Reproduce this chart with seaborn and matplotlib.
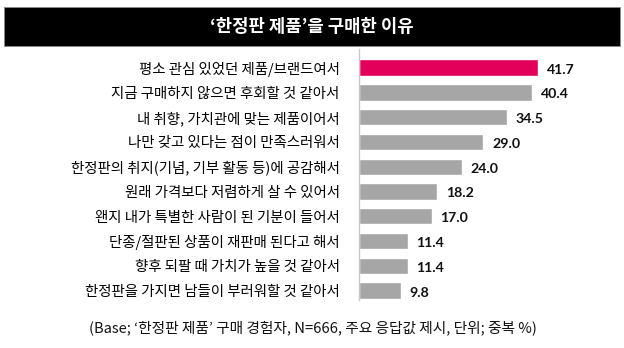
import matplotlib
matplotlib.use("Agg")
import matplotlib.pyplot as plt
import seaborn as sns
import pandas as pd
from matplotlib.patches import Rectangle

categories = [
    "평소 관심 있었던 제품/브랜드여서",
    "지금 구매하지 않으면 후회할 것 같아서",
    "내 취향, 가치관에 맞는 제품이어서",
    "나만 갖고 있다는 점이 만족스러워서",
    "한정판의 취지(기념, 기부 활동 등)에 공감해서",
    "원래 가격보다 저렴하게 살 수 있어서",
    "왠지 내가 특별한 사람이 된 기분이 들어서",
    "단종/절판된 상품이 재판매 된다고 해서",
    "향후 되팔 때 가치가 높을 것 같아서",
    "한정판을 가지면 남들이 부러워할 것 같아서",
]
values = [41.7, 40.4, 34.5, 29.0, 24.0, 18.2, 17.0, 11.4, 11.4, 9.8]
title = "‘한정판 제품’을 구매한 이유"
footnote = "(Base; ‘한정판 제품’ 구매 경험자, N=666, 주요 응답값 제시, 단위; 중복 %)"

sns.set_theme(style="white")
plt.rcParams['font.family'] = ['Noto Sans CJK KR', 'DejaVu Sans']

W, H = 624, 348
fig = plt.figure(figsize=(W / 100, H / 100), dpi=100)

ax_left, ax_top, ax_bottom = 359, 49, 300
xmax = 60
px_per_unit = (538 - 359) / 41.7
ax_w = xmax * px_per_unit
ax = fig.add_axes([ax_left / W, 1 - ax_bottom / H, ax_w / W, (ax_bottom - ax_top) / H])

df = pd.DataFrame({"cat": categories, "val": values})
colors = ["#E2005A"] + ["#A6A6A6"] * (len(values) - 1)
sns.barplot(data=df, x="val", y="cat", hue="cat", palette=colors, legend=False,
            width=0.66, ax=ax, saturation=1)

ax.set_xlim(0, xmax)
ax.set_ylim(9.38, -0.75)
ax.set_xlabel("")
ax.set_ylabel("")
ax.set_xticks([])
for s in ["top", "right", "bottom"]:
    ax.spines[s].set_visible(False)
ax.spines["left"].set_color("#C8C8C8")
ax.spines["left"].set_linewidth(1.0)
ax.tick_params(axis="y", length=0, pad=14, labelsize=10.4, labelcolor="#000000")
for lab in ax.get_yticklabels():
    lab.set_fontweight("medium")

for i, v in enumerate(values):
    ax.text(v + 2.0, i + 0.08, f"{v:.1f}", va="center", ha="left",
            fontsize=10.2, fontweight="bold", family=["Lato", "DejaVu Sans"], color="#111111")

# title band
fig.patches.append(Rectangle((4 / W, 1 - 46 / H), 616 / W, 39 / H, transform=fig.transFigure,
                             facecolor="black", edgecolor="#888888", linewidth=0.6, figure=fig))
fig.text(312 / W, 1 - 27 / H, title, ha="center", va="center", color="white",
         fontsize=12.8, fontweight="bold")

fig.text(313 / W, 1 - 328 / H, footnote, ha="center", va="center", color="#111111", fontsize=10.6)

fig.savefig("out.png", dpi=100, facecolor="white")
